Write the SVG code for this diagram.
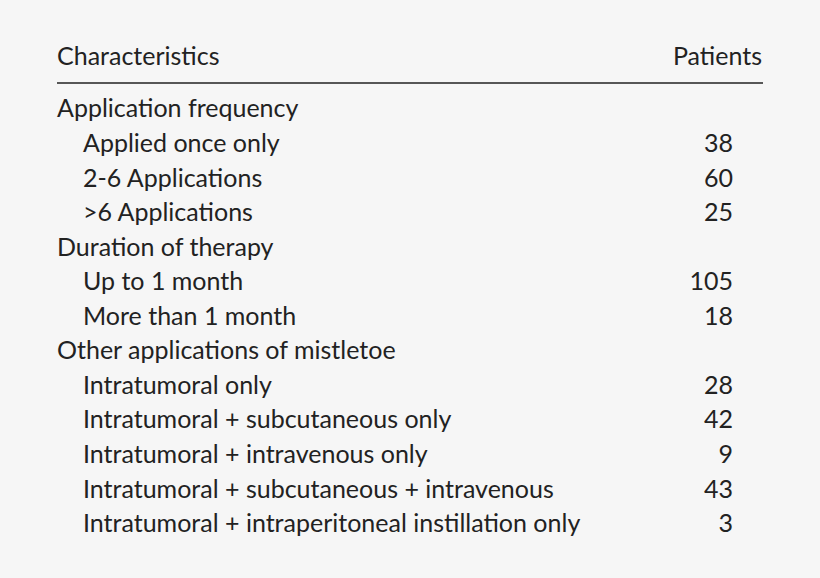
<svg xmlns="http://www.w3.org/2000/svg" width="820" height="578" viewBox="0 0 820 578">
<style>text{font-family:Lato,"Open Sans",sans-serif;font-size:25px;fill:#222}.n{text-anchor:end}</style>
<rect width="820" height="578" fill="#f6f6f6"/>
<text x="57" y="65">Characteristics</text><text class="n" x="762" y="65">Patients</text>
<line x1="57" y1="83" x2="763" y2="83" stroke="#222" stroke-width="1.6"/>
<text x="57" y="117">Application frequency</text>
<text x="83" y="152">Applied once only</text><text class="n" x="733" y="152">38</text>
<text x="83" y="187">2-6 Applications</text><text class="n" x="733" y="187">60</text>
<text x="83" y="221">&gt;6 Applications</text><text class="n" x="733" y="221">25</text>
<text x="57" y="256">Duration of therapy</text>
<text x="83" y="290">Up to 1 month</text><text class="n" x="733" y="290">105</text>
<text x="83" y="325">More than 1 month</text><text class="n" x="733" y="325">18</text>
<text x="57" y="359">Other applications of mistletoe</text>
<text x="83" y="394">Intratumoral only</text><text class="n" x="733" y="394">28</text>
<text x="83" y="428">Intratumoral + subcutaneous only</text><text class="n" x="733" y="428">42</text>
<text x="83" y="463">Intratumoral + intravenous only</text><text class="n" x="733" y="463">9</text>
<text x="83" y="498">Intratumoral + subcutaneous + intravenous</text><text class="n" x="733" y="498">43</text>
<text x="83" y="532">Intratumoral + intraperitoneal instillation only</text><text class="n" x="733" y="532">3</text>
</svg>
